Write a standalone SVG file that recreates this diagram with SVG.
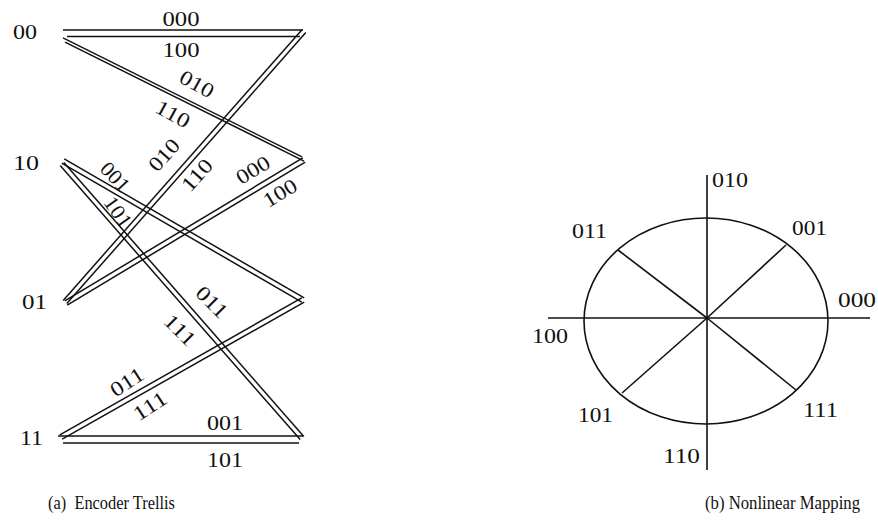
<svg xmlns="http://www.w3.org/2000/svg" width="878" height="527" viewBox="0 0 878 527">
<style>
.t{font-family:"Liberation Serif","Times New Roman",serif;font-size:21px;fill:#111}
.c{font-family:"Liberation Serif","Times New Roman",serif;font-size:18px;fill:#111}
.e line{stroke:#111;stroke-width:1.5;fill:none}
.m{stroke:#111;stroke-width:1.6;fill:none}
</style>
<rect width="878" height="527" fill="#fff"/>
<g id="state-00"><text class="t" x="13" y="39" textLength="24" lengthAdjust="spacingAndGlyphs">00</text></g>
<g id="state-10"><text class="t" x="13" y="170" textLength="26" lengthAdjust="spacingAndGlyphs">10</text></g>
<g id="state-01"><text class="t" x="22" y="309" textLength="25" lengthAdjust="spacingAndGlyphs">01</text></g>
<g id="state-11"><text class="t" x="20" y="445" textLength="23" lengthAdjust="spacingAndGlyphs">11</text></g>
<g id="connectors" class="e">
<line x1="63" y1="30" x2="303" y2="30"/><line x1="67" y1="36.5" x2="300" y2="36.5"/>
<line x1="63" y1="37.9" x2="302" y2="156.9"/><line x1="65" y1="42.1" x2="304" y2="161.1"/>
<line x1="305.8" y1="32.6" x2="66.8" y2="303.6"/><line x1="302.2" y1="29.4" x2="63.2" y2="300.4"/>
<line x1="305.2" y1="162.1" x2="67.2" y2="305.1"/><line x1="302.8" y1="157.9" x2="64.8" y2="300.9"/>
<line x1="61.8" y1="163.1" x2="301.8" y2="302.1"/><line x1="64.2" y1="158.9" x2="304.2" y2="297.9"/>
<line x1="60.2" y1="165.6" x2="300.2" y2="439.6"/><line x1="63.8" y1="162.4" x2="303.8" y2="436.4"/>
<line x1="304.2" y1="302.1" x2="62.2" y2="439.1"/><line x1="301.8" y1="297.9" x2="59.8" y2="434.9"/>
<line x1="58" y1="436" x2="303" y2="436"/><line x1="63" y1="443" x2="299" y2="443"/>
</g>
<g id="edge-labels" text-anchor="middle">
<text class="t" x="181" y="26" textLength="37" lengthAdjust="spacingAndGlyphs">000</text>
<text class="t" x="181" y="57" textLength="37" lengthAdjust="spacingAndGlyphs">100</text>
<text class="t" transform="translate(197,84) rotate(29)" y="7" textLength="36" lengthAdjust="spacingAndGlyphs">010</text>
<text class="t" transform="translate(173,114) rotate(29)" y="7" textLength="36" lengthAdjust="spacingAndGlyphs">110</text>
<text class="t" transform="translate(164,155) rotate(-48)" y="7" textLength="36" lengthAdjust="spacingAndGlyphs">010</text>
<text class="t" transform="translate(197,175) rotate(-48)" y="7" textLength="36" lengthAdjust="spacingAndGlyphs">110</text>
<text class="t" transform="translate(253,170) rotate(-31)" y="7" textLength="36" lengthAdjust="spacingAndGlyphs">000</text>
<text class="t" transform="translate(280,193) rotate(-31)" y="7" textLength="36" lengthAdjust="spacingAndGlyphs">100</text>
<text class="t" transform="translate(115,177) rotate(47)" y="7" textLength="33" lengthAdjust="spacingAndGlyphs">001</text>
<text class="t" transform="translate(118,212) rotate(55)" y="7" textLength="33" lengthAdjust="spacingAndGlyphs">101</text>
<text class="t" transform="translate(212,302) rotate(45)" y="7" textLength="36" lengthAdjust="spacingAndGlyphs">011</text>
<text class="t" transform="translate(180,330) rotate(45)" y="7" textLength="36" lengthAdjust="spacingAndGlyphs">111</text>
<text class="t" transform="translate(127,382) rotate(-33)" y="7" textLength="36" lengthAdjust="spacingAndGlyphs">011</text>
<text class="t" transform="translate(150,406) rotate(-33)" y="7" textLength="36" lengthAdjust="spacingAndGlyphs">111</text>
<text class="t" x="225" y="430" textLength="36" lengthAdjust="spacingAndGlyphs">001</text>
<text class="t" x="225" y="467" textLength="36" lengthAdjust="spacingAndGlyphs">101</text>
</g>
<g id="mapping">
<line class="m" x1="548" y1="318" x2="870" y2="318"/>
<line class="m" x1="707" y1="175" x2="707" y2="470"/>
<ellipse class="m" cx="706" cy="321" rx="122" ry="103"/>
<line class="m" x1="707" y1="318" x2="618" y2="250"/>
<line class="m" x1="707" y1="318" x2="786" y2="245"/>
<line class="m" x1="707" y1="318" x2="622" y2="393"/>
<line class="m" x1="707" y1="318" x2="796" y2="390"/>
<text class="t" x="712" y="187" textLength="36" lengthAdjust="spacingAndGlyphs">010</text>
<text class="t" x="792" y="235" textLength="35" lengthAdjust="spacingAndGlyphs">001</text>
<text class="t" x="572" y="238" textLength="35" lengthAdjust="spacingAndGlyphs">011</text>
<text class="t" x="838" y="307" textLength="38" lengthAdjust="spacingAndGlyphs">000</text>
<text class="t" x="532" y="343" textLength="36" lengthAdjust="spacingAndGlyphs">100</text>
<text class="t" x="578" y="422" textLength="35" lengthAdjust="spacingAndGlyphs">101</text>
<text class="t" x="803" y="417" textLength="35" lengthAdjust="spacingAndGlyphs">111</text>
<text class="t" x="663" y="463" textLength="37" lengthAdjust="spacingAndGlyphs">110</text>
</g>
<g id="captions">
<text class="c" x="48" y="509" textLength="127" lengthAdjust="spacingAndGlyphs" xml:space="preserve">(a)  Encoder Trellis</text>
<text class="c" x="705" y="509" textLength="155" lengthAdjust="spacingAndGlyphs">(b) Nonlinear Mapping</text>
</g>
</svg>
